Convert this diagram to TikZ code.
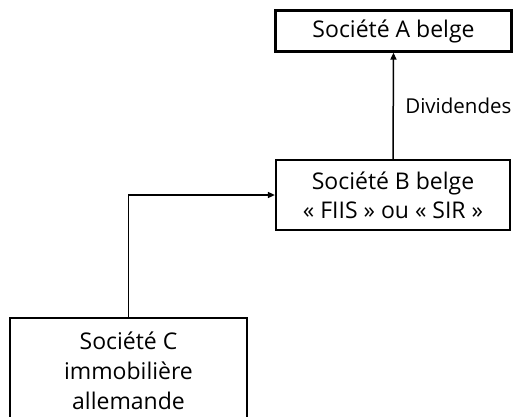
\documentclass[tikz,border=0pt]{standalone}
\usepackage{fontspec}
\setmainfont{Open Sans}
\usetikzlibrary{arrows.meta}
\begin{document}
\begin{tikzpicture}[x=1pt,y=1pt,
  box/.style={draw, line width=2.2pt, inner sep=0pt, align=center, font=\fontsize{23}{29}\selectfont},
  conn/.style={line width=1.5pt, -{Triangle[length=7pt,width=6pt]}},
  lbl/.style={font=\fontsize{20.5}{22}\selectfont}]
\useasboundingbox (0,0) rectangle (515,-416);
\clip (0,0) rectangle (515,-416);
\node[box, minimum width=236pt, minimum height=41pt] (a) at (393.5,-31) {Société A belge};
\node[box, minimum width=234pt, minimum height=70pt] (b) at (393,-195) {Société B belge\\« FIIS » ou « SIR »};
\node[box, minimum width=237pt, minimum height=140pt, anchor=north] (c) at (128.5,-317) {};
\node[font=\fontsize{23}{30}\selectfont, align=center, anchor=north] (ct) at (128.5,-328) {Société C\\immobilière\\allemande};
\draw[conn] (b.north) -- (a.south) node[lbl, midway, right=8pt] (d) {Dividendes};
\coordinate (bend) at (c.north |- b.west);
\draw[conn] (c.north) -- (bend) -- (b.west);
\end{tikzpicture}
\end{document}
